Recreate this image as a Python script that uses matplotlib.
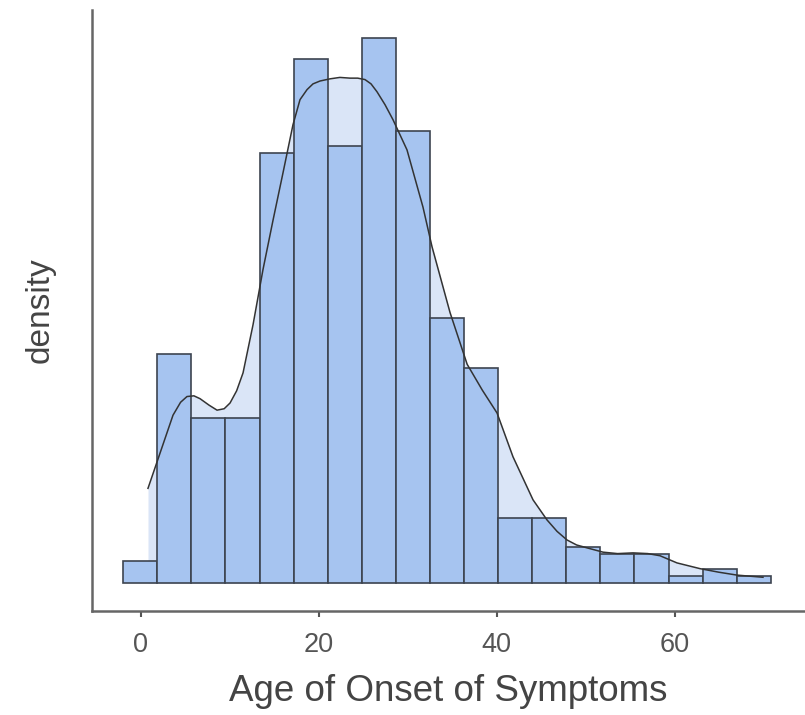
import matplotlib
matplotlib.use("Agg")
import matplotlib.pyplot as plt
import numpy as np

###################################################################
# DATA
bin_start = -1.95       # left edge of the first bin
bin_width = 3.83        # width of every bin
counts = [3, 32, 23, 23, 60, 73, 61, 76, 63, 37, 30, 9, 9, 5, 4, 4, 1, 2, 1]

# density curve, same count scale as the bars
curve_x = [0.84, 2.19, 3.65, 4.5, 5.22, 6.0, 6.69, 7.7, 8.6, 9.4, 10.06, 10.8,
           11.52, 12.64, 13.76, 14.89, 16.01, 17.13, 17.92, 18.71, 19.38, 20.17,
           21.29, 22.4, 23.54, 24.4, 25.22, 25.9, 26.57, 27.47, 28.37, 29.94,
           31.74, 32.75, 34.78, 36.7, 38.4, 40.06, 41.85, 44.1, 45.67, 46.8,
           47.92, 49.0, 50.17, 51.97, 53.6, 55.34, 57.0, 58.37, 60.28, 62.87,
           65.0, 67.02, 69.94]
curve_y = [13.2, 18.1, 23.4, 25.2, 26.0, 26.1, 25.7, 24.8, 24.1, 24.3, 25.1, 26.8,
           29.3, 36.0, 43.7, 50.6, 57.2, 63.9, 67.4, 68.8, 69.6, 70.0,
           70.3, 70.5, 70.4, 70.4, 70.2, 69.6, 68.5, 66.7, 64.6, 60.4,
           52.4, 46.9, 37.7, 30.5, 26.9, 23.7, 17.6, 11.6, 8.8, 7.2,
           6.0, 5.3, 4.9, 4.3, 4.1, 4.2, 4.1, 3.8, 2.8, 2.0,
           1.5, 1.1, 0.8]

x_ticks = [0, 20, 40, 60]
x_label = "Age of Onset of Symptoms"
y_label = "density"
###################################################################

counts = np.array(counts, dtype=float)
scale = counts.sum() * bin_width          # counts -> density
density = counts / scale
curve_d = np.array(curve_y) / scale
edges = bin_start + bin_width * np.arange(len(counts))

plt.rcParams['font.family'] = ['Liberation Sans', 'DejaVu Sans']

fig = plt.figure(figsize=(8.05, 7.15), dpi=100)
ax = fig.add_axes([0.1143, 0.1455, 0.8857, 0.8405])

# light fill under the density curve, bars on top, line last
ax.fill_between(curve_x, curve_d, 0, color='#dae5f7', lw=0, zorder=1)
ax.bar(edges, density, width=bin_width, align='edge',
       color='#a6c4f0', edgecolor='#3d4450', linewidth=1.2, zorder=2)
ax.plot(curve_x, curve_d, color='#333333', lw=1.1, zorder=3)

ax.set_xlim(-5.45, 74.66)
ax.set_ylim(-3.9 / scale, 79.9 / scale)

ax.set_xticks(x_ticks)
ax.set_yticks([])
ax.tick_params(axis='x', length=4, width=1.5, color='#555555',
               labelsize=19.5, labelcolor='#555555', pad=11)

for side in ['top', 'right']:
    ax.spines[side].set_visible(False)
for side in ['left', 'bottom']:
    ax.spines[side].set_color('#666666')
    ax.spines[side].set_linewidth(1.8)

ax.set_xlabel(x_label, fontsize=26.5, color='#444444', labelpad=11.5)
ax.set_ylabel(y_label, fontsize=24, color='#444444', labelpad=26)

plt.savefig("out.png", dpi=100)
plt.close()
